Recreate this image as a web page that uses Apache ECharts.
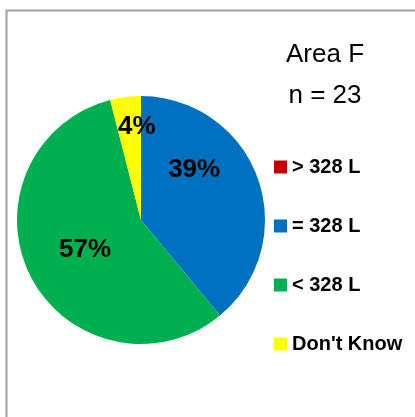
<!DOCTYPE html>
<html>
<head>
<meta charset="utf-8">
<script src="https://cdn.jsdelivr.net/npm/echarts@6/dist/echarts.min.js"></script>
<style>
    html, body { margin: 0; padding: 0; background: #fff; }
    #chart { width: 415px; height: 417px; }
</style>
</head>
<body>
<div id="chart"></div>
<script>
// categories and shares (percent)
var categories = ['> 328 L', '= 328 L', '< 328 L', "Don't Know"];
var shares = [0, 39, 57, 4];
var colors = ['#C00000', '#0070C0', '#00B050', '#FFFF00'];
// label nudges so text sits where it did in the original
var labelOffsets = [[0, 0], [-8, -28], [2, 0], [4, -29]];
var titleLines = ['Area F', 'n = 23'];

var font = '"Liberation Sans", Arial, sans-serif';

var pieData = categories.map(function (name, i) {
    return {
        name: name,
        value: shares[i],
        itemStyle: { color: colors[i] },
        label: { show: shares[i] > 0, offset: labelOffsets[i] }
    };
});

var myChart = echarts.init(document.getElementById('chart'));

var option = {
    backgroundColor: '#fff',
    animation: false,
    title: {
        text: titleLines.join('\n'),
        left: 320,
        top: 29,
        textAlign: 'center',
        textStyle: {
            fontFamily: font,
            fontWeight: 'normal',
            fontSize: 26,
            lineHeight: 41,
            color: '#000'
        }
    },
    legend: {
        orient: 'vertical',
        left: 274,
        top: 157,
        padding: 0,
        itemWidth: 13,
        itemHeight: 13,
        itemGap: 39,
        icon: 'rect',
        data: categories,
        textStyle: {
            fontFamily: font,
            fontWeight: 'bold',
            fontSize: 20,
            color: '#000'
        }
    },
    graphic: [{
        type: 'rect',
        shape: { x: 6.5, y: 10.5, width: 600, height: 600 },
        style: { fill: 'none', stroke: '#a0a0a0', lineWidth: 2 },
        silent: true
    }],
    series: [{
        type: 'pie',
        center: [141, 220],
        radius: 124,
        startAngle: 90,
        clockwise: true,
        avoidLabelOverlap: false,
        itemStyle: { borderWidth: 0 },
        label: {
            position: 'inside',
            formatter: '{c}%',
            fontFamily: font,
            fontWeight: 'bold',
            fontSize: 26,
            color: '#000'
        },
        labelLine: { show: false },
        emphasis: { disabled: true },
        data: pieData
    }]
};

myChart.setOption(option);
</script>
</body>
</html>
